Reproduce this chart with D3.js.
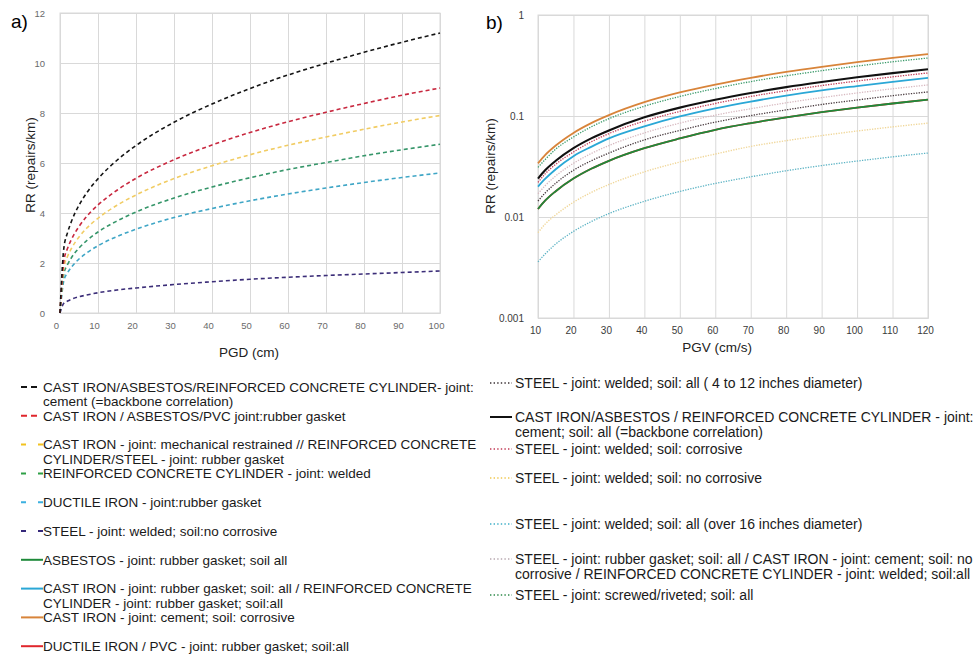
<!DOCTYPE html>
<html lang="en">
<head>
  <meta charset="UTF-8" />
  <title>Pipe repair rate curves</title>
  <style>
    html, body { margin: 0; padding: 0; background: #fff; }
    svg { display: block; font-family: "Liberation Sans", Arial, sans-serif; }
    .grid line, .grid path { stroke: #d9d9d9; stroke-width: 1px; }
    .gridA .tick text { fill: #6a6a6a; font-size: 9.5px; }
    .gridB .tick text { fill: #3a3a3a; font-size: 10px; }
    .legend text { fill: #1a1a1a; }
    .legL text { font-size: 13.5px; }
    .legR text { font-size: 14px; }
    .title { font-size: 13.5px; fill: #222; }
    .series { fill: none; }
  </style>
  <script src="https://d3js.org/d3.v7.min.js"></script>
</head>
<body>
<svg id="chart" width="973" height="656"></svg>
<script>
  // ---------- data, panel a (PGD in cm) ----------
  const pgd = [0, 1, 2, 3, 5, 7, 10, 15, 20, 30, 40, 50, 60, 70, 80, 90, 100];
  const rrCementBackbone  = [0, 2.58, 3.22, 3.66, 4.31, 4.80, 5.37, 6.11, 6.70, 7.63, 8.36, 8.98, 9.52, 9.99, 10.43, 10.83, 11.2];
  const rrRubberGasketA   = [0, 2.07, 2.59, 2.94, 3.46, 3.86, 4.32, 4.91, 5.39, 6.13, 6.72, 7.22, 7.65, 8.03, 8.38, 8.71, 9.0];
  const rrMechRestrained  = [0, 1.82, 2.27, 2.58, 3.04, 3.39, 3.79, 4.31, 4.72, 5.38, 5.89, 6.33, 6.71, 7.04, 7.35, 7.64, 7.9];
  const rrRccWeldedA      = [0, 1.56, 1.94, 2.21, 2.60, 2.89, 3.24, 3.68, 4.04, 4.60, 5.04, 5.41, 5.74, 6.02, 6.29, 6.53, 6.75];
  const rrDuctileGasketA  = [0, 1.29, 1.61, 1.83, 2.16, 2.40, 2.69, 3.06, 3.35, 3.82, 4.18, 4.49, 4.76, 5.00, 5.22, 5.42, 5.6];
  const rrSteelWeldedA    = [0, 0.39, 0.48, 0.55, 0.65, 0.72, 0.81, 0.92, 1.00, 1.14, 1.25, 1.35, 1.43, 1.50, 1.56, 1.62, 1.68];

  const pgdTicks = [0, 10, 20, 30, 40, 50, 60, 70, 80, 90, 100];
  const rrTicksA = [0, 2, 4, 6, 8, 10, 12];

  // ---------- data, panel b (PGV in cm/s) ----------
  const pgv = [10, 12, 15, 20, 25, 30, 40, 50, 60, 70, 80, 90, 100, 110, 120];
  const rrBackbone        = [0.024, 0.029, 0.036, 0.048, 0.06, 0.072, 0.097, 0.121, 0.145, 0.169, 0.193, 0.217, 0.242, 0.266, 0.29];
  const rrCementCorrosive = [0.034, 0.041, 0.051, 0.068, 0.085, 0.102, 0.137, 0.171, 0.205, 0.239, 0.273, 0.307, 0.342, 0.376, 0.41];
  const rrScrewedRiveted  = [0.031, 0.037, 0.047, 0.062, 0.078, 0.094, 0.125, 0.156, 0.187, 0.219, 0.25, 0.281, 0.312, 0.344, 0.375];
  const rrWeldedCorrosive = [0.022, 0.0267, 0.0333, 0.044, 0.0555, 0.067, 0.089, 0.111, 0.133, 0.156, 0.178, 0.2, 0.222, 0.244, 0.267];
  const rrCastIronGasket  = [0.02, 0.0238, 0.0297, 0.04, 0.0495, 0.06, 0.079, 0.099, 0.119, 0.139, 0.159, 0.179, 0.198, 0.218, 0.238];
  const rrSteelGasket     = [0.017, 0.0204, 0.0255, 0.034, 0.0425, 0.051, 0.068, 0.085, 0.102, 0.118, 0.135, 0.152, 0.169, 0.186, 0.203];
  const rrWelded4to12     = [0.0144, 0.0173, 0.0216, 0.029, 0.036, 0.043, 0.058, 0.072, 0.087, 0.101, 0.115, 0.13, 0.144, 0.159, 0.173];
  const rrAsbestosGasket  = [0.012, 0.0145, 0.018, 0.024, 0.03, 0.036, 0.048, 0.06, 0.073, 0.085, 0.097, 0.109, 0.121, 0.133, 0.145];
  const rrDuctilePvc      = [0.012, 0.0145, 0.018, 0.024, 0.03, 0.036, 0.048, 0.06, 0.073, 0.085, 0.097, 0.109, 0.121, 0.133, 0.145];
  const rrWeldedNoCorr    = [0.007, 0.0085, 0.0105, 0.014, 0.0175, 0.021, 0.028, 0.035, 0.042, 0.05, 0.057, 0.064, 0.071, 0.078, 0.085];
  const rrWeldedOver16    = [0.0036, 0.0043, 0.0054, 0.0072, 0.009, 0.0108, 0.0143, 0.0179, 0.0215, 0.025, 0.0287, 0.0323, 0.0358, 0.0394, 0.043];

  const pgvTicks = [10, 20, 30, 40, 50, 60, 70, 80, 90, 100, 110, 120];
  const rrTicksB = [0.001, 0.01, 0.1, 1];

  // ---------- legend text ----------
  const legendLeft = [
    ["CAST IRON/ASBESTOS/REINFORCED CONCRETE CYLINDER- joint:", "cement (=backbone correlation)"],
    ["CAST IRON / ASBESTOS/PVC joint:rubber gasket"],
    ["CAST IRON - joint: mechanical restrained // REINFORCED CONCRETE", "CYLINDER/STEEL - joint: rubber gasket"],
    ["REINFORCED CONCRETE CYLINDER - joint: welded"],
    ["DUCTILE IRON - joint:rubber gasket"],
    ["STEEL - joint: welded; soil:no corrosive"],
    ["ASBESTOS - joint: rubber gasket; soil all"],
    ["CAST IRON - joint: rubber gasket; soil: all / REINFORCED CONCRETE", "CYLINDER - joint: rubber gasket; soil:all"],
    ["CAST IRON - joint: cement; soil: corrosive"],
    ["DUCTILE IRON / PVC - joint: rubber gasket; soil:all"]
  ];
  const legendRight = [
    ["STEEL - joint: welded; soil: all ( 4 to 12 inches diameter)"],
    ["CAST IRON/ASBESTOS / REINFORCED CONCRETE CYLINDER - joint:", "cement; soil: all (=backbone correlation)"],
    ["STEEL - joint: welded; soil: corrosive"],
    ["STEEL - joint: welded; soil: no corrosive"],
    ["STEEL - joint: welded; soil: all (over 16 inches diameter)"],
    ["STEEL - joint: rubber gasket; soil: all / CAST IRON - joint: cement; soil: no", "corrosive / REINFORCED CONCRETE CYLINDER - joint: welded; soil:all"],
    ["STEEL - joint: screwed/riveted; soil: all"]
  ];

  // ---------- styles ----------
  const dashA = [
    { values: rrSteelWeldedA,   color: "#3b2d78" },
    { values: rrDuctileGasketA, color: "#3fa6c6" },
    { values: rrRccWeldedA,     color: "#36966a" },
    { values: rrMechRestrained, color: "#f1cc63" },
    { values: rrRubberGasketA,  color: "#c8283f" },
    { values: rrCementBackbone, color: "#141414" }
  ];
  // drawing order in b: faint first, strong last
  const linesB = [
    { values: rrWeldedOver16,    color: "#5cb3c4", dotted: true,  width: 1.3 },
    { values: rrWeldedNoCorr,    color: "#f0d79a", dotted: true,  width: 1.4 },
    { values: rrDuctilePvc,      color: "#e0262c", dotted: false, width: 1.8 },
    { values: rrAsbestosGasket,  color: "#1e8a3a", dotted: false, width: 1.8 },
    { values: rrWelded4to12,     color: "#4a3c40", dotted: true,  width: 1.3 },
    { values: rrSteelGasket,     color: "#d7b9c0", dotted: true,  width: 1.3 },
    { values: rrCastIronGasket,  color: "#2aa7d6", dotted: false, width: 1.8 },
    { values: rrWeldedCorrosive, color: "#c23a55", dotted: true,  width: 1.3 },
    { values: rrBackbone,        color: "#111111", dotted: false, width: 2.1 },
    { values: rrScrewedRiveted,  color: "#3b9a6a", dotted: true,  width: 1.3 },
    { values: rrCementCorrosive, color: "#d8843a", dotted: false, width: 1.8 }
  ];
  const legendLeftStyle = [
    { color: "#141414", kind: "dash2" },
    { color: "#e0262c", kind: "dash2" },
    { color: "#f2c21e", kind: "dash1" },
    { color: "#2ea046", kind: "dash1" },
    { color: "#3bb0e0", kind: "dash1" },
    { color: "#35287a", kind: "dash1" },
    { color: "#1e8a3a", kind: "solid" },
    { color: "#2aa7d6", kind: "solid" },
    { color: "#d8843a", kind: "solid" },
    { color: "#e0262c", kind: "solid" }
  ];
  const legendRightStyle = [
    { color: "#3a3035", kind: "dot" },
    { color: "#111111", kind: "solid" },
    { color: "#c23a55", kind: "dot" },
    { color: "#f0c850", kind: "dot" },
    { color: "#3fb0c8", kind: "dot" },
    { color: "#b8a8b0", kind: "dot" },
    { color: "#2e8a4a", kind: "dot" }
  ];
  const legendRightRows = [383, 417, 449, 478, 524, 559, 595];

  const svg = d3.select("#chart");

  // ---------- panel a ----------
  const xA = d3.scaleLinear().domain([0, 100]).range([60, 440]);
  const yA = d3.scaleLinear().domain([0, 12]).range([313, 13]);

  const gA = svg.append("g");
  gA.append("g")
    .attr("class", "grid gridA")
    .attr("transform", "translate(0,313)")
    .call(d3.axisBottom(xA).tickValues(pgdTicks).tickSize(-300).tickPadding(9))
    .selectAll(".tick text").attr("dx", -4);
  gA.append("g")
    .attr("class", "grid gridA")
    .attr("transform", "translate(60,0)")
    .call(d3.axisLeft(yA).tickValues(rrTicksA).tickSize(-380).tickPadding(15));
  gA.append("rect")
    .attr("x", 60).attr("y", 13).attr("width", 380).attr("height", 300)
    .attr("fill", "none").attr("stroke", "#d9d9d9");

  const lineA = d3.line()
    .x((d, i) => xA(pgd[i]))
    .y(d => yA(d))
    .curve(d3.curveMonotoneX);

  gA.selectAll("path.series")
    .data(dashA)
    .join("path")
    .attr("class", "series")
    .attr("d", d => lineA(d.values))
    .attr("stroke", d => d.color)
    .attr("stroke-width", 1.6)
    .attr("stroke-dasharray", "4,3");

  gA.append("text").attr("class", "title")
    .attr("x", 249).attr("y", 352).attr("text-anchor", "middle")
    .attr("dy", "0.35em").text("PGD (cm)");
  gA.append("text").attr("class", "title")
    .attr("transform", "translate(30,165) rotate(-90)")
    .attr("text-anchor", "middle").attr("dy", "0.35em")
    .text("RR (repairs/km)");
  gA.append("text")
    .attr("x", 11).attr("y", 28)
    .style("font-size", "19px").text("a)");

  // ---------- panel b ----------
  const xB = d3.scaleLinear().domain([10, 120]).range([538, 928]);
  const yB = d3.scaleLog().domain([0.001, 1]).range([318, 15]);

  const gB = svg.append("g");
  gB.append("g")
    .attr("class", "grid gridB")
    .attr("transform", "translate(0,318)")
    .call(d3.axisBottom(xB).tickValues(pgvTicks).tickSize(-303).tickPadding(9))
    .selectAll(".tick text").attr("dx", -3);
  gB.append("g")
    .attr("class", "grid gridB")
    .attr("transform", "translate(538,0)")
    .call(d3.axisLeft(yB).tickValues(rrTicksB).tickFormat(d => String(d)).tickSize(-390).tickPadding(14));
  gB.append("rect")
    .attr("x", 538).attr("y", 15).attr("width", 390).attr("height", 303)
    .attr("fill", "none").attr("stroke", "#d9d9d9");

  const lineB = d3.line()
    .x((d, i) => xB(pgv[i]))
    .y(d => yB(d))
    .curve(d3.curveMonotoneX);

  gB.selectAll("path.series")
    .data(linesB)
    .join("path")
    .attr("class", "series")
    .attr("d", d => lineB(d.values))
    .attr("stroke", d => d.color)
    .attr("stroke-width", d => d.width)
    .attr("stroke-dasharray", d => d.dotted ? "1.3,1.3" : null);

  gB.append("text").attr("class", "title")
    .attr("x", 717).attr("y", 347).attr("text-anchor", "middle")
    .attr("dy", "0.35em").text("PGV (cm/s)");
  gB.append("text").attr("class", "title")
    .attr("transform", "translate(490,166) rotate(-90)")
    .attr("text-anchor", "middle").attr("dy", "0.35em")
    .text("RR (repairs/km)");
  gB.append("text")
    .attr("x", 486).attr("y", 29)
    .style("font-size", "19px").text("b)");

  // ---------- legends ----------
  function drawSample(g, x0, x1, y, st) {
    const l = g.append("line")
      .attr("x1", x0).attr("x2", x1).attr("y1", y).attr("y2", y)
      .attr("stroke", st.color);
    if (st.kind === "dash2") l.attr("stroke-width", 2).attr("stroke-dasharray", "6,4,6,40");
    if (st.kind === "dash1") l.attr("stroke-width", 2).attr("stroke-dasharray", "5,12,5,40");
    if (st.kind === "solid") l.attr("stroke-width", 2);
    if (st.kind === "dot") l.attr("stroke-width", 1.6).attr("stroke-dasharray", "1.4,2.2");
  }

  const legL = svg.append("g").attr("class", "legend legL");
  legendLeft.forEach((lines, i) => {
    const y = 387 + i * 28.8;
    drawSample(legL, 21, 43, y, legendLeftStyle[i]);
    lines.forEach((t, j) => {
      legL.append("text").attr("x", 43).attr("y", y + j * 14.5)
        .attr("dy", "0.35em").text(t);
    });
  });

  const legR = svg.append("g").attr("class", "legend legR");
  legendRight.forEach((lines, i) => {
    const y = legendRightRows[i];
    drawSample(legR, 490, 512, y, legendRightStyle[i]);
    lines.forEach((t, j) => {
      legR.append("text").attr("x", 515).attr("y", y + j * 15.5)
        .attr("dy", "0.35em").text(t);
    });
  });
</script>
</body>
</html>
